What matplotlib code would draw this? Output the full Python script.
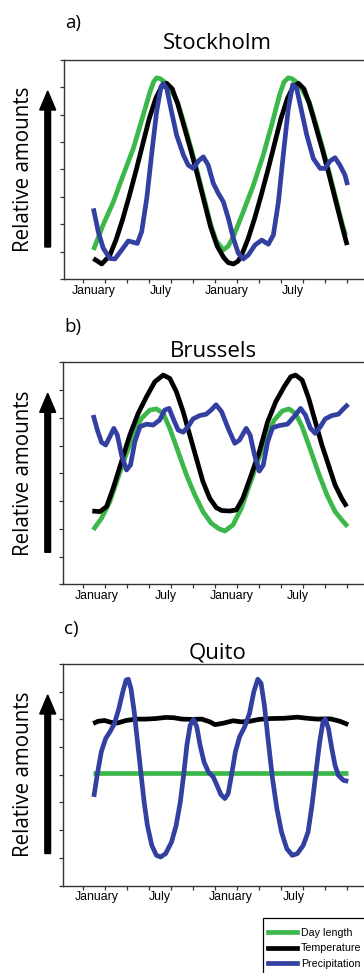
import matplotlib
matplotlib.use("Agg")
import matplotlib.pyplot as plt
from matplotlib.patches import FancyArrow, Rectangle
from matplotlib.lines import Line2D

# x in "tick units": one tick = two months, y in relative units (0..8)
month_labels = ["January", "July", "January", "July"]
series_names = ["Day length", "Temperature", "Precipitation"]
colors = ["#3cb84a", "#000000", "#3340a2"]

# Stockholm
a_day_x = [0.46, 0.9, 1.37, 1.82, 2.28, 2.73, 3.04, 3.2, 3.34, 3.5, 3.7, 3.95, 4.3, 4.6, 4.9, 5.2, 5.5, 5.8,
           6.05, 6.38, 6.6, 6.84, 7.29, 7.75, 8.2, 8.58, 8.96, 9.15, 9.34, 9.5, 9.7, 9.95, 10.3, 10.6, 10.9,
           11.2, 11.5, 11.8, 11.95]
a_day_y = [1.06, 1.97, 2.82, 3.8, 4.77, 5.99, 6.84, 7.2, 7.35, 7.32, 7.2, 6.95, 6.45, 5.65, 4.8, 3.9, 2.95, 2.0,
           1.4, 1.06, 1.2, 1.55, 2.46, 3.43, 4.53, 5.62, 6.78, 7.2, 7.35, 7.32, 7.2, 6.95, 6.45, 5.65, 4.8,
           3.9, 2.95, 2.0, 1.6]
a_temp_x = [0.46, 0.84, 1.2, 1.5, 1.8, 2.1, 2.4, 2.7, 3.0, 3.3, 3.55, 3.8, 4.05, 4.3, 4.6, 4.9, 5.2, 5.5, 5.8,
            6.1, 6.4, 6.6, 6.84, 7.05, 7.2, 7.5, 7.8, 8.1, 8.4, 8.7, 9.0, 9.3, 9.55, 9.8, 10.05, 10.3, 10.6,
            10.9, 11.2, 11.5, 11.8, 12.02]
a_temp_y = [0.75, 0.55, 0.85, 1.45, 2.2, 3.05, 3.95, 4.9, 5.85, 6.6, 7.0, 7.15, 6.95, 6.4, 5.55, 4.7, 3.8, 2.85,
            1.9, 1.2, 0.78, 0.6, 0.55, 0.65, 0.85, 1.45, 2.2, 3.05, 3.95, 4.9, 5.85, 6.6, 7.0, 7.15, 6.95, 6.4,
            5.55, 4.7, 3.8, 2.85, 1.9, 1.24]
a_prec_x = [0.46, 0.68, 0.91, 1.21, 1.44, 1.75, 2.05, 2.28, 2.46, 2.66, 2.89, 3.11, 3.34, 3.54, 3.64, 3.8, 4.02,
            4.25, 4.56, 4.78, 5.01, 5.24, 5.47, 5.69, 5.92, 6.15, 6.38, 6.61, 6.84, 7.06, 7.29, 7.52, 7.82,
            8.13, 8.43, 8.66, 8.89, 9.11, 9.34, 9.54, 9.72, 9.95, 10.18, 10.48, 10.79, 11.01, 11.24, 11.47,
            11.69, 11.92, 12.04]
a_prec_y = [2.58, 1.73, 1.12, 0.75, 0.73, 1.06, 1.39, 1.34, 1.3, 1.73, 2.94, 4.53, 6.11, 7.02, 7.14, 6.96, 6.11,
            5.26, 4.53, 4.16, 4.04, 4.31, 4.46, 4.16, 3.5, 3.13, 2.82, 2.21, 1.48, 0.94, 0.73, 0.88, 1.24,
            1.42, 1.27, 1.61, 2.82, 4.53, 6.23, 7.1, 6.96, 6.11, 5.26, 4.4, 4.04, 4.04, 4.31, 4.43,
            4.16, 3.8, 3.43]

# Brussels
b_day_x = [0.45, 0.83, 1.21, 1.52, 1.89, 2.27, 2.65, 3.03, 3.33, 3.64, 3.94, 4.32, 4.7, 5.08, 5.45, 5.83, 6.18,
           6.45, 6.82, 7.2, 7.57, 7.95, 8.32, 8.7, 9.07, 9.37, 9.67, 9.97, 10.35, 10.72, 11.1, 11.47, 11.8, 12.04]
b_day_y = [1.96, 2.38, 2.98, 3.7, 4.54, 5.38, 5.98, 6.28, 6.32, 6.16, 5.62, 4.78, 3.94, 3.22, 2.62, 2.2, 2.0,
           1.92, 2.14, 2.74, 3.58, 4.42, 5.26, 5.92, 6.25, 6.32, 6.16, 5.68, 4.84, 4.0, 3.22, 2.62, 2.3, 2.08]
b_temp_x = [0.41, 0.76, 1.06, 1.36, 1.74, 2.12, 2.5, 2.88, 3.26, 3.64, 3.94, 4.24, 4.55, 4.85, 5.15, 5.45, 5.76,
            6.06, 6.3, 6.67, 6.97, 7.27, 7.65, 8.02, 8.4, 8.77, 9.15, 9.45, 9.67, 9.97, 10.27, 10.57, 10.87,
            11.17, 11.47, 11.77, 12.0]
b_temp_y = [2.64, 2.62, 2.8, 3.46, 4.42, 5.38, 6.16, 6.76, 7.3, 7.54, 7.42, 6.94, 6.22, 5.38, 4.54, 3.7, 3.1,
            2.76, 2.66, 2.64, 2.68, 3.1, 3.94, 4.78, 5.86, 6.58, 7.12, 7.48, 7.54, 7.36, 6.7, 5.86, 5.02,
            4.3, 3.58, 3.1, 2.8]
b_prec_x = [0.45, 0.64, 0.83, 1.02, 1.21, 1.39, 1.55, 1.74, 1.97, 2.15, 2.35, 2.58, 2.88, 3.18, 3.48, 3.71, 3.91,
            4.09, 4.32, 4.55, 4.77, 5.0, 5.3, 5.6, 5.85, 6.05, 6.3, 6.6, 6.9, 7.12, 7.42, 7.6, 7.8, 8.02, 8.2,
            8.4, 8.62, 8.92, 9.3, 9.6, 9.9, 10.12, 10.35, 10.57, 10.8, 11.02, 11.32, 11.62, 11.85, 12.07]
b_prec_y = [6.1, 5.56, 5.12, 5.02, 5.32, 5.62, 5.38, 4.66, 4.12, 4.3, 5.14, 5.68, 5.77, 5.74, 5.92, 6.28, 6.34,
            5.98, 5.56, 5.48, 5.68, 5.96, 6.08, 6.13, 6.3, 6.47, 6.22, 5.62, 5.08, 5.2, 5.62, 5.38, 4.66, 4.08, 4.3,
            5.14, 5.64, 5.72, 5.77, 6.04, 6.34, 6.1, 5.62, 5.44, 5.68, 5.96, 6.08, 6.13, 6.32, 6.49]

# Quito
c_day_x = [0.45, 12.05]
c_day_y = [4.08, 4.08]
c_temp_x = [0.45, 0.67, 0.97, 1.27, 1.57, 1.95, 2.4, 2.85, 3.3, 3.75, 4.12, 4.5, 4.95, 5.4, 5.77, 6.0, 6.37,
            6.82, 7.2, 7.57, 8.02, 8.55, 9.15, 9.75, 10.2, 10.65, 11.25, 11.7, 12.07]
c_temp_y = [5.85, 5.93, 5.96, 5.89, 5.87, 5.96, 6.01, 6.01, 6.03, 6.07, 6.06, 6.01, 6.0, 6.01, 5.91, 5.81, 5.86,
            5.95, 5.91, 5.93, 6.0, 6.03, 6.04, 6.08, 6.04, 6.01, 6.02, 5.93, 5.81]
c_prec_x = [0.48, 0.63, 0.82, 1.02, 1.23, 1.42, 1.62, 1.8, 1.95, 2.05, 2.17, 2.32, 2.47, 2.62, 2.77, 2.92, 3.12,
            3.33, 3.52, 3.75, 4.02, 4.23, 4.42, 4.57, 4.72, 4.87, 5.02, 5.17, 5.32, 5.5, 5.7, 5.92, 6.1, 6.27,
            6.45, 6.6, 6.75, 6.93, 7.12, 7.35, 7.57, 7.77, 7.95, 8.1, 8.25, 8.43, 8.62, 8.82, 9.03, 9.27, 9.52,
            9.75, 10.02, 10.24, 10.42, 10.6, 10.77, 10.92, 11.02, 11.17, 11.32, 11.47, 11.62, 11.85, 12.07]
c_prec_y = [3.2, 3.98, 4.83, 5.31, 5.57, 5.85, 6.39, 7.0, 7.42, 7.45, 7.12, 6.27, 5.19, 4.1, 3.02, 2.17, 1.45,
            1.09, 1.03, 1.15, 1.57, 2.17, 3.02, 3.98, 5.07, 5.79, 6.0, 5.73, 5.07, 4.46, 4.1, 3.92, 3.6, 3.28,
            3.14, 3.32, 3.98, 4.83, 5.37, 5.73, 6.21, 7.0, 7.45, 7.3, 6.51, 5.19, 3.86, 2.77, 1.93, 1.33, 1.09,
            1.15, 1.45, 1.93, 2.9, 4.1, 5.19, 5.91, 6.01, 5.67, 4.95, 4.34, 3.98, 3.8, 3.76]

W, H = 364, 973
fig = plt.figure(figsize=(W / 100, H / 100), dpi=100)

# panel layout in pixels: letter, title, left, top, bottom, title x, title baseline, letter baseline, label positions
panels = [
    ("a)", "Stockholm", 64, 60, 279, 217, 49, 28, [0.48, 3.55, 6.55, 9.55],
     [(a_day_x, a_day_y), (a_temp_x, a_temp_y), (a_prec_x, a_prec_y)]),
    ("b)", "Brussels", 63.3, 362.3, 584.3, 213, 357, 332, [0.6, 3.75, 6.75, 9.78],
     [(b_day_x, b_day_y), (b_temp_x, b_temp_y), (b_prec_x, b_prec_y)]),
    ("c)", "Quito", 63.3, 664, 885.5, 218, 658, 634, [0.6, 3.5, 6.72, 9.6],
     [(c_day_x, c_day_y), (c_temp_x, c_temp_y), (c_prec_x, c_prec_y)]),
]

for letter, title, left, top, bottom, tx, tb, lb, lab_pos, data in panels:
    right = 370
    ax = fig.add_axes([left / W, 1 - bottom / H, (right - left) / W, (bottom - top) / H])
    ax.set_xlim((left - 83.3) / 21.95, (right - 83.3) / 21.95)
    ax.set_ylim(0, 8)
    for (xs, ys), c in zip(data, colors):
        ax.plot(xs, ys, color=c, lw=3.4, solid_capstyle="butt")
    ax.set_xticks(range(13))
    ax.set_xticklabels([])
    ax.set_yticks(range(9))
    ax.set_yticklabels([])
    ax.set_xticks(lab_pos, month_labels, minor=True)
    ax.tick_params(which="major", direction="out", length=3, width=0.9, color="#333333")
    ax.tick_params(which="minor", length=0, pad=4, labelsize=8.8)
    for lab in ax.get_xticklabels(minor=True):
        lab.set_fontfamily("Liberation Sans")
    for s in ax.spines.values():
        s.set_linewidth(1.0)
        s.set_color("#333333")

    fig.text(left / W + 0.002, 1 - lb / H, letter, fontsize=13.5, family="Open Sans", va="baseline")
    fig.text(tx / W, 1 - tb / H, title, fontsize=16, family="Open Sans", ha="center", va="baseline")
    mid = (top + bottom) / 2
    fig.text(24 / W, 1 - mid / H, "Relative amounts", fontsize=14.8, family="Open Sans",
             rotation=90, ha="center", va="center")
    # arrow in inches
    y0 = (H - (bottom - 32)) / 100
    y1 = (H - (top + 31)) / 100
    arr = FancyArrow(0.477, y0, 0, y1 - y0, width=0.057, head_width=0.16, head_length=0.19,
                     length_includes_head=True, color="black", transform=fig.dpi_scale_trans)
    fig.add_artist(arr)

# legend box runs off the page at right and bottom
fig.add_artist(Rectangle((263 / W, -0.02), 0.5, 1 - 918 / H + 0.02, transform=fig.transFigure,
                         fill=False, ec="black", lw=0.9))
handles = [Line2D([], [], color=c, lw=3.4) for c in colors]
leg = fig.legend(handles, series_names, loc="upper left", bbox_to_anchor=(268 / W, 1 - 928 / H),
                 frameon=False, prop={"family": "Liberation Sans", "size": 7.7}, handlelength=2.75,
                 handletextpad=0.35, labelspacing=0.5, borderpad=0, borderaxespad=0)

fig.savefig("out.png", dpi=100)
